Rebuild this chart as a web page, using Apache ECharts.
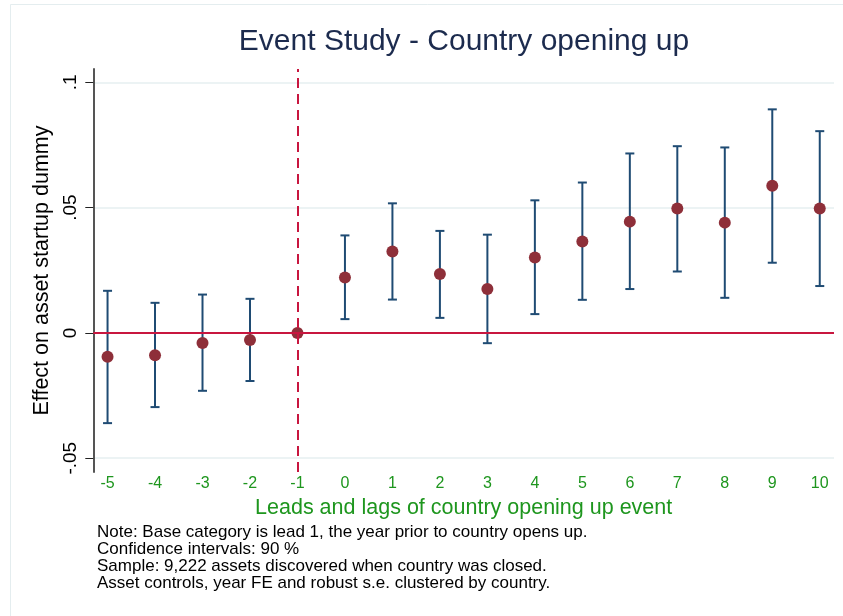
<!DOCTYPE html>
<html>
<head>
<meta charset="utf-8">
<title>Event Study - Country opening up</title>
<script src="https://cdn.jsdelivr.net/npm/echarts@6/dist/echarts.min.js"></script>
<style>
  html, body { margin: 0; padding: 0; background: #fff; }
  #chart { width: 843px; height: 616px; }
</style>
</head>
<body>
<div id="chart"></div>
<script>
// leads and lags (years relative to opening up)
const periods = [-5, -4, -3, -2, -1, 0, 1, 2, 3, 4, 5, 6, 7, 8, 9, 10];
// point estimates
const coefs = [-0.0095, -0.0089, -0.0040, -0.0028, 0, 0.0221, 0.0325, 0.0235, 0.0175, 0.0301, 0.0365, 0.0444, 0.0496, 0.0440, 0.0587, 0.0496];
// 90% confidence interval bounds (base period -1 has none)
const ciLow = [-0.0360, -0.0296, -0.0231, -0.0192, null, 0.0055, 0.0133, 0.0060, -0.0041, 0.0075, 0.0132, 0.0175, 0.0245, 0.0140, 0.0280, 0.0187];
const ciHigh = [0.0168, 0.0120, 0.0153, 0.0136, null, 0.0389, 0.0517, 0.0407, 0.0392, 0.0529, 0.0600, 0.0716, 0.0745, 0.0740, 0.0892, 0.0805];
// axis tick labels
const yTicks = [-0.05, 0, 0.05, 0.1];
const yTickLabels = ['-.05', '0', '.05', '.1'];
const xTicks = [-5, -4, -3, -2, -1, 0, 1, 2, 3, 4, 5, 6, 7, 8, 9, 10];

const notes = [
  'Note: Base category is lead 1, the year prior to country opens up.',
  'Confidence intervals: 90 %',
  'Sample: 9,222 assets discovered when country was closed.',
  'Asset controls, year FE and robust s.e. clustered by country.'
];

const FONT = '"Liberation Sans", Arial, sans-serif';
const navy = '#1f4b73';
const maroon = '#8e2f39';
const crimson = '#c8163f';
const green = '#1e961e';

const chart = echarts.init(document.getElementById('chart'), null, { renderer: 'canvas' });

const ciData = periods
  .map((p, i) => [p, ciLow[i], ciHigh[i]])
  .filter(d => d[1] !== null);

const option = {
  backgroundColor: '#fff',
  animation: false,
  grid: { left: 93.3, right: 9, top: 69, bottom: 144, containLabel: false },
  graphic: [
    // faint outer frame of the graph region
    { type: 'rect', shape: { x: 10.5, y: 4.5, width: 900, height: 700 },
      style: { fill: 'none', stroke: '#e4edef', lineWidth: 1 }, silent: true, z: -1 },
    { type: 'text', x: 464, y: 42,
      style: { text: 'Event Study - Country opening up', font: '30px ' + FONT, fill: '#1c2b4e',
        textAlign: 'center', textVerticalAlign: 'middle' } },
    { type: 'text', x: 97, y: 524,
      style: { text: notes.join('\n'), font: '17px ' + FONT, fill: '#000', lineHeight: 17,
        textAlign: 'left', textVerticalAlign: 'top' } }
  ],
  xAxis: {
    type: 'value',
    min: -5.3,
    max: 10.3,
    name: 'Leads and lags of country opening up event',
    nameLocation: 'middle',
    nameGap: 24,
    nameTextStyle: { color: green, fontSize: 21.5, fontFamily: FONT },
    axisLine: { show: false },
    axisTick: { show: false },
    splitLine: { show: false },
    axisLabel: {
      customValues: xTicks,
      color: green, fontSize: 16, fontFamily: FONT, margin: 4,
      formatter: v => String(v)
    }
  },
  yAxis: {
    type: 'value',
    min: -0.0555,
    max: 0.1053,
    name: 'Effect on asset startup dummy',
    nameLocation: 'middle',
    nameGap: 35,
    nameTextStyle: { color: '#000', fontSize: 21.5, fontFamily: FONT },
    axisLine: { show: true, onZero: false, lineStyle: { color: '#555', width: 2 } },
    axisTick: { show: true, customValues: yTicks, length: 8, lineStyle: { color: '#222', width: 1 } },
    axisLabel: {
      customValues: yTicks,
      rotate: 90,
      margin: 13,
      color: '#000', fontSize: 19, fontFamily: FONT,
      formatter: v => yTickLabels[yTicks.findIndex(t => Math.abs(t - v) < 1e-9)] || ''
    },
    splitLine: { show: true, lineStyle: { color: '#e6eff1', width: 1.5 } }
  },
  series: [
    {
      // reference lines: zero effect and event date
      type: 'line',
      data: [],
      silent: true,
      markLine: {
        silent: true,
        symbol: 'none',
        label: { show: false },
        data: [
          { yAxis: 0, lineStyle: { color: crimson, width: 2, type: 'solid' } },
          { xAxis: -1, lineStyle: { color: crimson, width: 2, type: [10, 6] } }
        ]
      },
      z: 1
    },
    {
      name: 'CI',
      type: 'custom',
      data: ciData,
      z: 3,
      renderItem: (params, api) => {
        const lo = api.coord([api.value(0), api.value(1)]);
        const hi = api.coord([api.value(0), api.value(2)]);
        const hw = 4.5;
        const style = { stroke: navy, lineWidth: 2 };
        return {
          type: 'group',
          children: [
            { type: 'line', shape: { x1: hi[0], y1: hi[1], x2: lo[0], y2: lo[1] }, style },
            { type: 'line', shape: { x1: hi[0] - hw, y1: hi[1], x2: hi[0] + hw, y2: hi[1] }, style },
            { type: 'line', shape: { x1: lo[0] - hw, y1: lo[1], x2: lo[0] + hw, y2: lo[1] }, style }
          ]
        };
      },
      encode: { x: 0, y: [1, 2] }
    },
    {
      name: 'Estimate',
      type: 'scatter',
      data: periods.map((p, i) => [p, coefs[i]]),
      symbol: 'circle',
      symbolSize: 12,
      itemStyle: { color: maroon, opacity: 1 },
      z: 4
    }
  ]
};

chart.setOption(option);
</script>
</body>
</html>
